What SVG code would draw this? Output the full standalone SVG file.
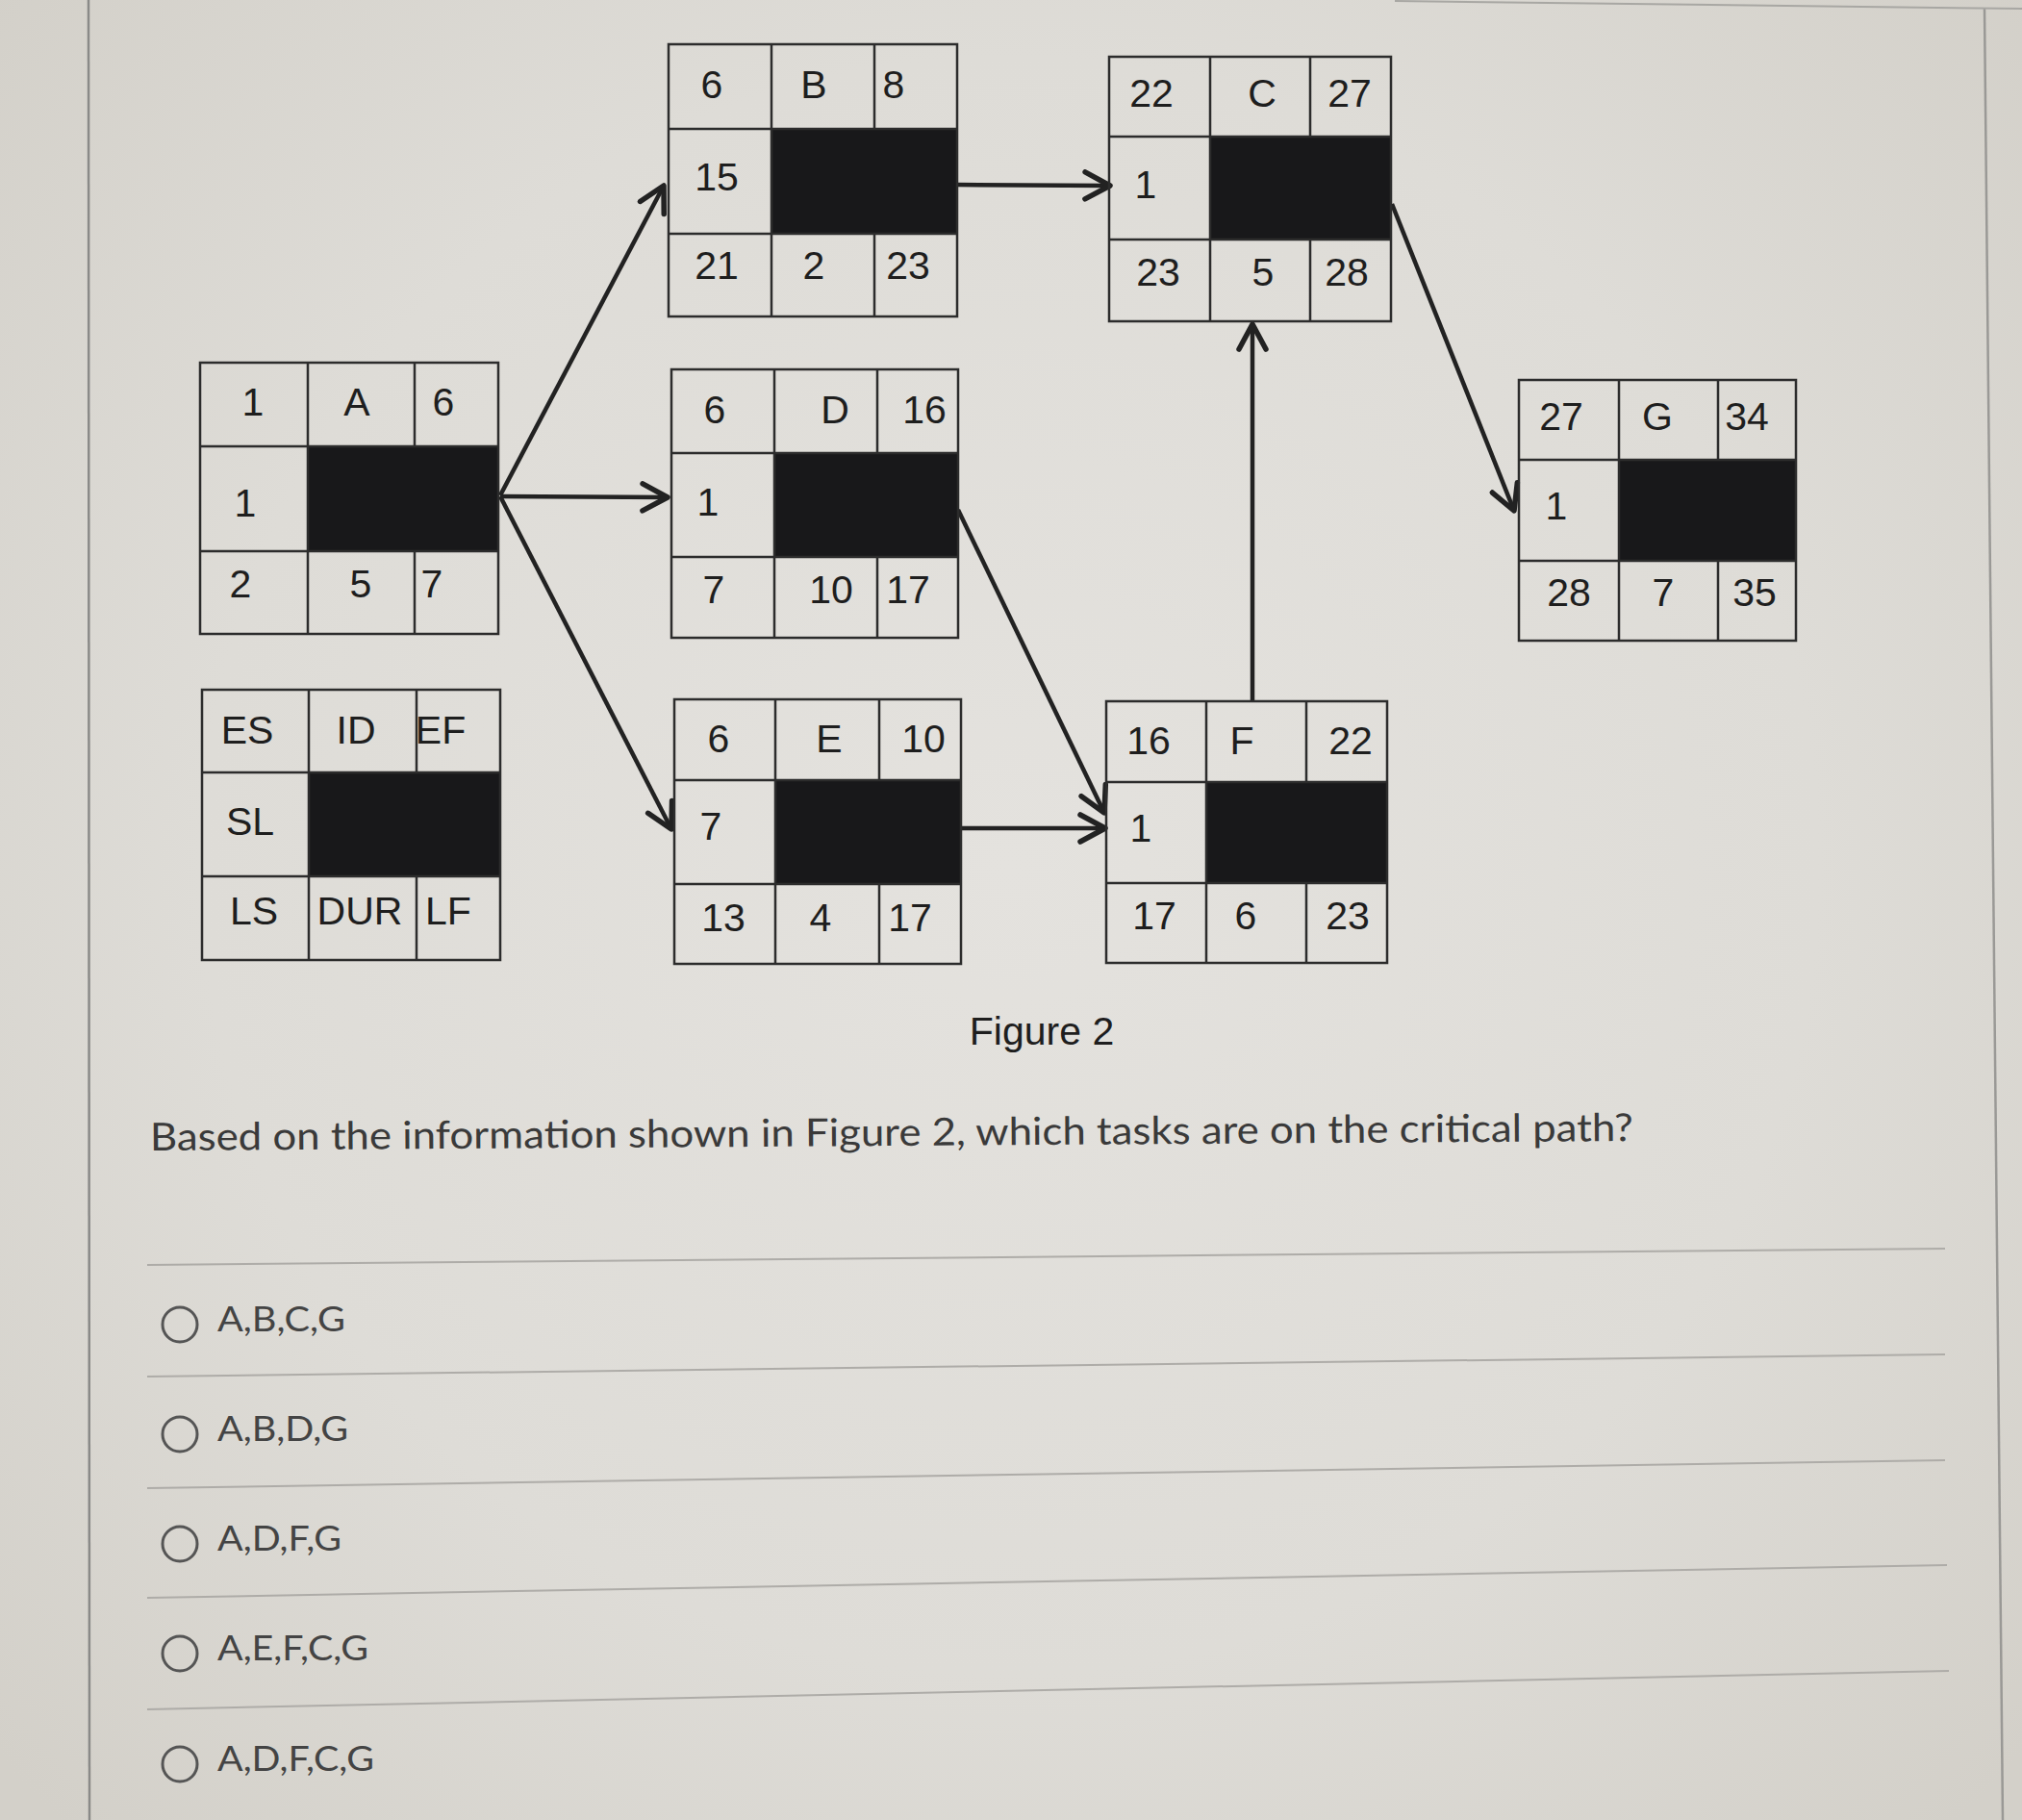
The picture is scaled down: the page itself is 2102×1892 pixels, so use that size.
<svg xmlns="http://www.w3.org/2000/svg" width="2102" height="1892" viewBox="0 0 2102 1892">
<defs>
<radialGradient id="bg" cx="1050" cy="900" r="1400" gradientUnits="userSpaceOnUse">
<stop offset="0" stop-color="#e4e2de"/>
<stop offset="0.6" stop-color="#dedcd7"/>
<stop offset="1" stop-color="#d3d0c9"/>
</radialGradient>
<marker id="arr" viewBox="0 0 32 34" refX="29" refY="17" markerWidth="32" markerHeight="34" markerUnits="userSpaceOnUse" orient="auto">
<path d="M3,3 L29,17 L3,31" fill="none" stroke="#222" stroke-width="5.5" stroke-linecap="round" stroke-linejoin="round"/>
</marker>
<style>
.box{fill:none;stroke:#2c2c2c;stroke-width:2.5}
.blk{fill:#18181a}
.t{font-family:"Liberation Sans",Arial,sans-serif;font-size:41px;fill:#1e1e1e;text-anchor:middle}
.conn{stroke:#222;stroke-width:4.5;fill:none;marker-end:url(#arr)}
.sep{stroke:#aeaca8;stroke-width:2}
.q{font-family:Lato,"Liberation Sans",sans-serif;font-size:40px;fill:#3a3a3a}
.opt{font-family:Lato,"Liberation Sans",sans-serif;font-size:37px;fill:#444}
.rad{fill:none;stroke:#555;stroke-width:3}
</style>
</defs>
<rect x="0" y="0" width="2102" height="1892" fill="url(#bg)"/>
<line x1="92" y1="0" x2="93" y2="1892" stroke="#8a8a88" stroke-width="2.5"/>
<line x1="2063" y1="8" x2="2082" y2="1892" stroke="#9a9996" stroke-width="2.5"/>
<line x1="1450" y1="1" x2="2102" y2="9" stroke="#a8a7a3" stroke-width="2"/>

<g id="connectors">
<line class="conn" x1="520" y1="515" x2="690" y2="193"/>
<line class="conn" x1="520" y1="516" x2="694" y2="517"/>
<line class="conn" x1="520" y1="516" x2="698" y2="862"/>
<line class="conn" x1="995" y1="192" x2="1154" y2="193"/>
<line class="conn" x1="996" y1="530" x2="1148" y2="845"/>
<line class="conn" x1="999" y1="861" x2="1149" y2="861"/>
<line class="conn" x1="1302" y1="728" x2="1302" y2="337"/>
<line class="conn" x1="1447" y1="212" x2="1574" y2="531"/>
</g>

<g id="node-A">
<rect class="blk" x="320" y="464" width="198" height="109"/>
<rect class="box" x="208" y="377" width="310" height="282"/>
<path class="box" d="M208,464H518M208,573H518M320,377V659M431,377V464M431,573V659"/>
<text class="t" x="263" y="432">1</text><text class="t" x="371" y="432">A</text><text class="t" x="461" y="432">6</text>
<text class="t" x="255" y="537">1</text>
<text class="t" x="250" y="621">2</text><text class="t" x="375" y="621">5</text><text class="t" x="449" y="621">7</text>
</g>

<g id="node-B">
<rect class="blk" x="802" y="134" width="193" height="109"/>
<rect class="box" x="695" y="46" width="300" height="283"/>
<path class="box" d="M695,134H995M695,243H995M802,46V329M909,46V134M909,243V329"/>
<text class="t" x="740" y="102">6</text><text class="t" x="846" y="102">B</text><text class="t" x="929" y="102">8</text>
<text class="t" x="745" y="198">15</text>
<text class="t" x="745" y="290">21</text><text class="t" x="846" y="290">2</text><text class="t" x="944" y="290">23</text>
</g>

<g id="node-D">
<rect class="blk" x="805" y="471" width="191" height="108"/>
<rect class="box" x="698" y="384" width="298" height="279"/>
<path class="box" d="M698,471H996M698,579H996M805,384V663M912,384V471M912,579V663"/>
<text class="t" x="743" y="440">6</text><text class="t" x="868" y="440">D</text><text class="t" x="961" y="440">16</text>
<text class="t" x="736" y="536">1</text>
<text class="t" x="742" y="627">7</text><text class="t" x="864" y="627">10</text><text class="t" x="944" y="627">17</text>
</g>

<g id="node-E">
<rect class="blk" x="806" y="811" width="193" height="108"/>
<rect class="box" x="701" y="727" width="298" height="275"/>
<path class="box" d="M701,811H999M701,919H999M806,727V1002M914,727V811M914,919V1002"/>
<text class="t" x="747" y="782">6</text><text class="t" x="862" y="782">E</text><text class="t" x="960" y="782">10</text>
<text class="t" x="739" y="873">7</text>
<text class="t" x="752" y="968">13</text><text class="t" x="853" y="968">4</text><text class="t" x="946" y="968">17</text>
</g>

<g id="node-C">
<rect class="blk" x="1258" y="142" width="188" height="107"/>
<rect class="box" x="1153" y="59" width="293" height="275"/>
<path class="box" d="M1153,142H1446M1153,249H1446M1258,59V334M1362,59V142M1362,249V334"/>
<text class="t" x="1197" y="111">22</text><text class="t" x="1312" y="111">C</text><text class="t" x="1403" y="111">27</text>
<text class="t" x="1191" y="206">1</text>
<text class="t" x="1204" y="297">23</text><text class="t" x="1313" y="297">5</text><text class="t" x="1400" y="297">28</text>
</g>

<g id="node-F">
<rect class="blk" x="1254" y="813" width="188" height="105"/>
<rect class="box" x="1150" y="729" width="292" height="272"/>
<path class="box" d="M1150,813H1442M1150,918H1442M1254,729V1001M1358,729V813M1358,918V1001"/>
<text class="t" x="1194" y="784">16</text><text class="t" x="1291" y="784">F</text><text class="t" x="1404" y="784">22</text>
<text class="t" x="1186" y="875">1</text>
<text class="t" x="1200" y="966">17</text><text class="t" x="1295" y="966">6</text><text class="t" x="1401" y="966">23</text>
</g>

<g id="node-G">
<rect class="blk" x="1683" y="478" width="184" height="105"/>
<rect class="box" x="1579" y="395" width="288" height="271"/>
<path class="box" d="M1579,478H1867M1579,583H1867M1683,395V666M1786,395V478M1786,583V666"/>
<text class="t" x="1623" y="447">27</text><text class="t" x="1723" y="447">G</text><text class="t" x="1816" y="447">34</text>
<text class="t" x="1618" y="540">1</text>
<text class="t" x="1631" y="630">28</text><text class="t" x="1729" y="630">7</text><text class="t" x="1824" y="630">35</text>
</g>

<g id="legend">
<rect class="blk" x="321" y="803" width="199" height="108"/>
<rect class="box" x="210" y="717" width="310" height="281"/>
<path class="box" d="M210,803H520M210,911H520M321,717V998M433,717V803M433,911V998"/>
<text class="t" x="257" y="773">ES</text><text class="t" x="370" y="773">ID</text><text class="t" x="458" y="773">EF</text>
<text class="t" x="260" y="868">SL</text>
<text class="t" x="264" y="961">LS</text><text class="t" x="374" y="961">DUR</text><text class="t" x="466" y="961">LF</text>
</g>

<text id="caption" x="1083" y="1086" font-family="'Liberation Sans',Arial,sans-serif" font-size="41" fill="#1e1e1e" text-anchor="middle">Figure 2</text>

<text class="q" x="156" y="1196" textLength="1542" lengthAdjust="spacingAndGlyphs" transform="rotate(-0.37 156 1196)">Based on the information shown in Figure 2, which tasks are on the critical path?</text>

<g id="separators">
<line class="sep" x1="153" y1="1315" x2="2022" y2="1298"/>
<line class="sep" x1="153" y1="1431" x2="2022" y2="1408"/>
<line class="sep" x1="153" y1="1547" x2="2022" y2="1518"/>
<line class="sep" x1="153" y1="1661" x2="2024" y2="1627"/>
<line class="sep" x1="153" y1="1777" x2="2026" y2="1737"/>
</g>

<g id="options">
<circle class="rad" cx="187" cy="1377" r="18"/><text class="opt" x="226" y="1384" textLength="133" lengthAdjust="spacingAndGlyphs">A,B,C,G</text>
<circle class="rad" cx="187" cy="1491" r="18"/><text class="opt" x="226" y="1498" textLength="136" lengthAdjust="spacingAndGlyphs">A,B,D,G</text>
<circle class="rad" cx="187" cy="1605" r="18"/><text class="opt" x="226" y="1612" textLength="129" lengthAdjust="spacingAndGlyphs">A,D,F,G</text>
<circle class="rad" cx="187" cy="1719" r="18"/><text class="opt" x="226" y="1726" textLength="157" lengthAdjust="spacingAndGlyphs">A,E,F,C,G</text>
<circle class="rad" cx="187" cy="1834" r="18"/><text class="opt" x="226" y="1841" textLength="163" lengthAdjust="spacingAndGlyphs">A,D,F,C,G</text>
</g>
</svg>
